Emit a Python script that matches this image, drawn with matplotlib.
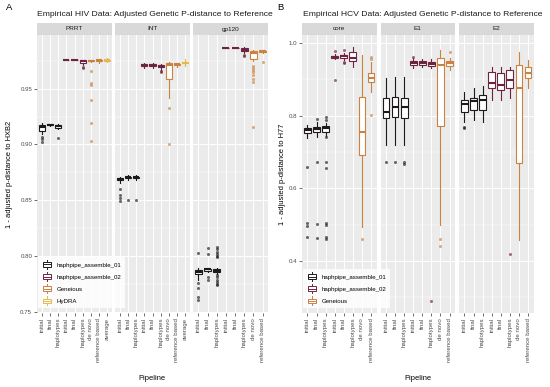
import matplotlib
matplotlib.use("Agg")
import matplotlib.pyplot as plt
from matplotlib.patches import Patch, Rectangle
from matplotlib.lines import Line2D
from matplotlib.legend_handler import HandlerBase

plt.rcParams['font.family'] = ['Liberation Sans', 'DejaVu Sans']

# Colours of the pipelines
C_01 = "#1E1A1A"
C_02 = "#6E2440"
C_GEN = "#C9823F"
C_HYD = "#E8B84A"

# Categories
HIV_CATS = ["initial", "final", "haplotypes", "initial", "final", "haplotypes",
            "de novo", "reference based", "average"]
HCV_CATS = HIV_CATS[:8]
CAT_COLORS = [C_01, C_01, C_01, C_02, C_02, C_02, C_GEN, C_GEN, C_HYD]

# Box stats: (whisker low, q1, median, q3, whisker high) per category
PRRT_STATS = [(0.909, 0.912, 0.9155, 0.9175, 0.919), (0.9165, 0.917, 0.9175, 0.918, 0.9185),
              (0.9135, 0.915, 0.9165, 0.9175, 0.9185), (0.9752, 0.9754, 0.9755, 0.9756, 0.9758),
              (0.9752, 0.9754, 0.9755, 0.9756, 0.9758), (0.9715, 0.973, 0.9745, 0.9752, 0.9758),
              (0.9735, 0.9745, 0.975, 0.9755, 0.976), (0.973, 0.9745, 0.9752, 0.9757, 0.976),
              (0.9735, 0.9748, 0.9752, 0.9756, 0.9775)]
PRRT_FLIERS = [[0.9065, 0.9045, 0.9025], [], [0.906], [], [], [0.9695, 0.9685],
               [0.966, 0.955, 0.953, 0.940, 0.919, 0.903], [], []]

INT_STATS = [(0.8655, 0.868, 0.869, 0.8695, 0.8705), (0.868, 0.8695, 0.8705, 0.871, 0.8725),
             (0.868, 0.8695, 0.8705, 0.871, 0.8725), (0.9685, 0.9705, 0.9715, 0.972, 0.9725),
             (0.9685, 0.9705, 0.9715, 0.972, 0.9725), (0.967, 0.969, 0.9705, 0.9715, 0.972),
             (0.942, 0.9585, 0.9715, 0.9725, 0.9735), (0.9695, 0.971, 0.9718, 0.9724, 0.973),
             (0.970, 0.9725, 0.973, 0.9735, 0.9765)]
INT_FLIERS = [[0.860, 0.855, 0.852, 0.8495], [0.8498], [0.8498], [], [], [0.9655, 0.9645],
              [0.933, 0.9007], [], []]

GP120_STATS = [(0.779, 0.784, 0.786, 0.7875, 0.789), (0.786, 0.787, 0.788, 0.7885, 0.789),
               (0.784, 0.7855, 0.787, 0.788, 0.789), (0.9862, 0.9864, 0.9865, 0.9866, 0.9868),
               (0.9862, 0.9864, 0.9865, 0.9866, 0.9868), (0.982, 0.9835, 0.9845, 0.986, 0.987),
               (0.9745, 0.9765, 0.9815, 0.9835, 0.985), (0.982, 0.983, 0.9835, 0.984, 0.985)]
GP120_FLIERS = [[0.803, 0.776, 0.7715, 0.7635, 0.761], [0.807, 0.802, 0.781, 0.779],
                [0.808, 0.806, 0.804, 0.802, 0.800, 0.799, 0.783, 0.781, 0.779, 0.777, 0.775, 0.774],
                [], [], [0.9805, 0.979],
                [0.970, 0.968, 0.9665, 0.965, 0.962, 0.959, 0.956, 0.916], [0.974]]

CORE_STATS = [(0.738, 0.752, 0.760, 0.765, 0.775), (0.742, 0.756, 0.764, 0.770, 0.782),
              (0.745, 0.756, 0.766, 0.772, 0.780), (0.955, 0.958, 0.962, 0.965, 0.970),
              (0.952, 0.960, 0.963, 0.967, 0.973), (0.935, 0.950, 0.960, 0.974, 0.990),
              (0.494, 0.692, 0.755, 0.852, 0.967), (0.866, 0.893, 0.905, 0.918, 0.948)]
CORE_FLIERS = [[0.659, 0.505, 0.497, 0.466], [0.791, 0.673, 0.502, 0.463],
               [0.797, 0.789, 0.742, 0.673, 0.656, 0.505, 0.500, 0.466, 0.460],
               [0.977, 0.899], [0.981, 0.949, 0.945], [], [0.46], [0.962, 0.957, 0.802]]

E1_STATS = [(0.72, 0.794, 0.81, 0.849, 0.904), (0.72, 0.797, 0.824, 0.852, 0.907),
            (0.72, 0.794, 0.824, 0.849, 0.907), (0.932, 0.940, 0.945, 0.950, 0.958),
            (0.933, 0.940, 0.945, 0.950, 0.957), (0.930, 0.936, 0.942, 0.948, 0.955),
            (0.50, 0.772, 0.94, 0.959, 0.981), (0.925, 0.936, 0.945, 0.951, 0.958)]
E1_FLIERS = [[0.673], [0.673], [0.673, 0.668], [0.962], [], [0.29], [0.46, 0.44], [0.976]]

E2_STATS = [(0.783, 0.81, 0.832, 0.843, 0.866), (0.788, 0.816, 0.841, 0.849, 0.877),
            (0.783, 0.816, 0.843, 0.857, 0.882), (0.843, 0.877, 0.890, 0.920, 0.935),
            (0.843, 0.871, 0.885, 0.918, 0.933), (0.849, 0.877, 0.899, 0.926, 0.935),
            (0.458, 0.67, 0.877, 0.940, 0.976), (0.877, 0.904, 0.918, 0.935, 0.954)]
E2_FLIERS = [[0.77, 0.766], [], [], [], [], [0.42], [], []]

HIV_LEGEND = ["haphpipe_assemble_01", "haphpipe_assemble_02", "Geneious", "HyDRA"]
HCV_LEGEND = HIV_LEGEND[:3]

W, H = 550.0, 387.0
fig = plt.figure(figsize=(5.5, 3.87), dpi=100)


def px_axes(x0, y0, x1, y1, **kw):
    return fig.add_axes([x0 / W, 1 - y1 / H, (x1 - x0) / W, (y1 - y0) / H], **kw)


class BoxHandler(HandlerBase):
    def create_artists(self, legend, orig_handle, xdescent, ydescent, width, height, fontsize, trans):
        c = orig_handle.get_edgecolor()
        x0, y0 = -xdescent, -ydescent
        cx = x0 + width / 2
        rect = Rectangle((x0 + width * 0.1, y0 + height * 0.22), width * 0.8, height * 0.56,
                         facecolor="white", edgecolor=c, lw=0.7, transform=trans)
        vl = Line2D([cx, cx], [y0 - height * 0.15, y0 + height * 1.15], color=c, lw=0.7, transform=trans)
        md = Line2D([x0 + width * 0.1, x0 + width * 0.9], [y0 + height * 0.5] * 2, color=c, lw=0.7,
                    transform=trans)
        return [vl, rect, md]


def facet(x0, x1, name, cats, stats, fliers, ylim, yticks, yminor, show_y):
    ax = px_axes(x0, 35, x1, 313)
    ax.set_facecolor("#EBEBEB")
    n = len(cats)
    for i in range(n):
        c = CAT_COLORS[i]
        lo, q1, med, q3, hi = stats[i]
        bx = dict(whislo=lo, q1=q1, med=med, q3=q3, whishi=hi, fliers=fliers[i])
        ax.bxp([bx], positions=[i + 1], widths=0.75, patch_artist=True,
               boxprops=dict(facecolor="white", edgecolor=c, lw=0.8),
               whiskerprops=dict(color=c, lw=0.8), capprops=dict(lw=0),
               medianprops=dict(color=c, lw=1.5),
               flierprops=dict(marker="o", markersize=2.2, markerfacecolor=c, markeredgecolor="none",
                               alpha=0.65),
               showcaps=False, zorder=3)
    ax.set_xlim(0.4, n + 0.6)
    ax.set_ylim(*ylim)
    ax.set_xticks(range(1, n + 1))
    ax.set_xticklabels(cats, rotation=90, fontsize=4.4, color="#4D4D4D")
    ax.set_yticks(yticks)
    ax.set_yticks(yminor, minor=True)
    ax.grid(True, which="major", color="white", lw=0.7, zorder=0)
    ax.grid(True, which="minor", axis="y", color="white", lw=0.35, zorder=0)
    ax.set_axisbelow(True)
    ax.tick_params(axis="both", which="major", length=2, width=0.5, color="#333333", pad=1.5)
    ax.tick_params(axis="y", which="minor", length=0)
    ax.tick_params(axis="y", labelsize=4.4, labelcolor="#4D4D4D")
    if not show_y:
        ax.tick_params(axis="y", which="major", length=0, labelleft=False)
    for s in ax.spines.values():
        s.set_visible(False)
    st = px_axes(x0, 23, x1, 35)
    st.set_facecolor("#D9D9D9")
    st.set_xticks([])
    st.set_yticks([])
    for s in st.spines.values():
        s.set_visible(False)
    st.text(0.5, 0.5, name, ha="center", va="center", fontsize=4.6, color="#1A1A1A",
            transform=st.transAxes)
    return ax


# Panel A: HIV
hiv_ylim = (0.749, 0.998)
hiv_ticks = [0.75, 0.80, 0.85, 0.90, 0.95]
hiv_minor = [0.775, 0.825, 0.875, 0.925, 0.975]
a1 = facet(37, 112, "PRRT", HIV_CATS, PRRT_STATS, PRRT_FLIERS, hiv_ylim, hiv_ticks, hiv_minor, True)
a1.set_yticklabels(["0.75", "0.80", "0.85", "0.90", "0.95"])
facet(115, 190, "INT", HIV_CATS, INT_STATS, INT_FLIERS, hiv_ylim, hiv_ticks, hiv_minor, False)
facet(193, 268, "gp120", HIV_CATS[:8], GP120_STATS, GP120_FLIERS, hiv_ylim, hiv_ticks, hiv_minor, False)

# Panel B: HCV
hcv_ylim = (0.257, 1.022)
hcv_ticks = [0.4, 0.6, 0.8, 1.0]
hcv_minor = [0.3, 0.5, 0.7, 0.9]
b1 = facet(302, 376.5, "core", HCV_CATS, CORE_STATS, CORE_FLIERS, hcv_ylim, hcv_ticks, hcv_minor, True)
b1.set_yticklabels(["0.4", "0.6", "0.8", "1.0"])
facet(380.5, 455, "E1", HCV_CATS, E1_STATS, E1_FLIERS, hcv_ylim, hcv_ticks, hcv_minor, False)
facet(459, 533.5, "E2", HCV_CATS, E2_STATS, E2_FLIERS, hcv_ylim, hcv_ticks, hcv_minor, False)

# Titles and labels
fig.text(6 / W, 1 - 8 / H, "A", fontsize=6.8, va="center", ha="left")
fig.text(277 / W, 1 - 8 / H, "B", fontsize=6.8, va="center", ha="left")
fig.text(37 / W, 1 - 15 / H, "Empirical HIV Data: Adjusted Genetic P-distance to Reference",
         fontsize=6.1, va="center", ha="left", color="#1A1A1A")
fig.text(303 / W, 1 - 15 / H, "Empirical HCV Data: Adjusted Genetic P-distance to Reference",
         fontsize=6.1, va="center", ha="left", color="#1A1A1A")
fig.text(10 / W, 1 - 174 / H, "1 - adjusted p-distance to HXB2", rotation=90, fontsize=5.4,
         va="center", ha="center")
fig.text(283 / W, 1 - 174 / H, "1 - adjusted p-distance to H77", rotation=90, fontsize=5.4,
         va="center", ha="center")
fig.text(152 / W, 1 - 378 / H, "Pipeline", fontsize=5.4, va="center", ha="center")
fig.text(418 / W, 1 - 378 / H, "Pipeline", fontsize=5.4, va="center", ha="center")

# Legends
hiv_handles = [Patch(edgecolor=c, facecolor="white", label=l)
               for c, l in zip([C_01, C_02, C_GEN, C_HYD], HIV_LEGEND)]
hcv_handles = hiv_handles[:3]
for handles, anchor in [(hiv_handles, (38 / W, 1 - 308 / H)), (hcv_handles, (303 / W, 1 - 308 / H))]:
    leg = fig.legend(handles=handles, loc="lower left", bbox_to_anchor=anchor, fontsize=4.4,
                     handler_map={Patch: BoxHandler()}, frameon=True, fancybox=False,
                     handlelength=1.7, handleheight=1.5, labelspacing=0.75, handletextpad=0.8,
                     borderpad=0.6, borderaxespad=0)
    leg.get_frame().set_facecolor("white")
    leg.get_frame().set_edgecolor("none")
    leg.get_frame().set_alpha(0.85)

fig.savefig("out.png", dpi=100)
